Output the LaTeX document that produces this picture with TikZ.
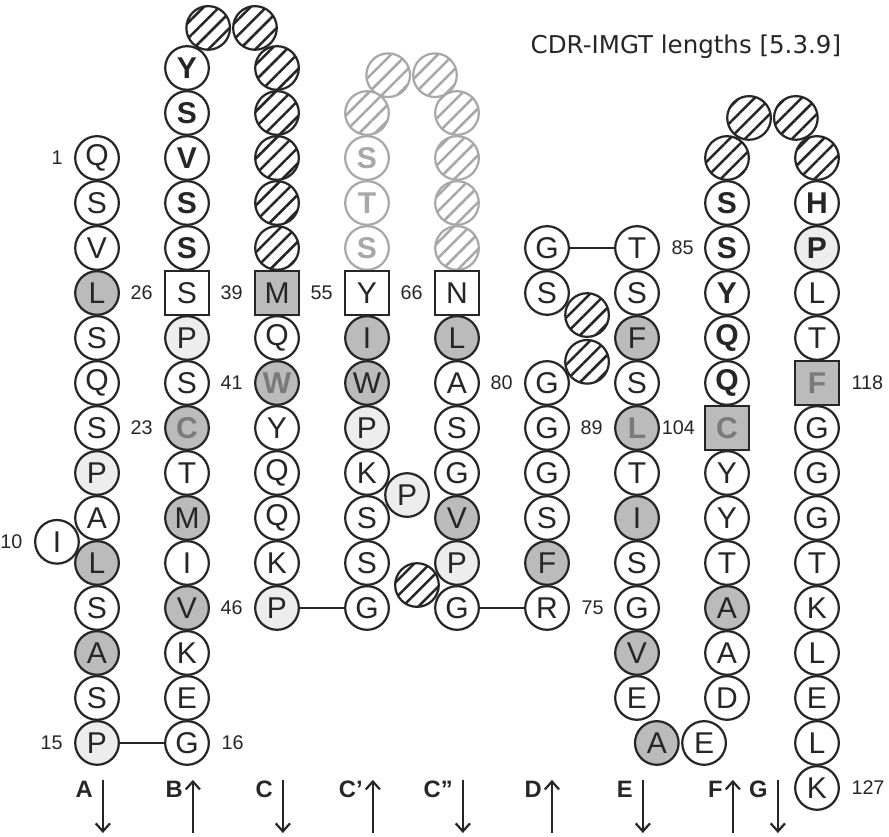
\documentclass[tikz,border=0pt]{standalone}
\usepackage{fontspec}
\setmainfont{Liberation Sans}
\newfontfamily\titlefont{DejaVu Sans}
\usetikzlibrary{arrows.meta,positioning,patterns.meta}

\definecolor{ink}{HTML}{262626}
\definecolor{hydgray}{HTML}{BBBBBB}
\definecolor{progray}{HTML}{EDEDED}
\definecolor{faintgray}{HTML}{A8A8A8}
\definecolor{dimtext}{HTML}{7A7A7A}

\newcommand{\resfont}{\fontsize{19}{22}\selectfont}

\begin{document}
\begin{tikzpicture}[>={Straight Barb[length=5pt,width=9pt]},
  bead/.style={circle,draw=ink,line width=1.4pt,minimum size=0.97cm,inner sep=0pt,text=ink,font=\resfont},
  res/.style={bead,fill=white},
  hyd/.style={bead,fill=hydgray},
  pro/.style={bead,fill=progray},
  cdr/.style={res,font=\resfont\bfseries},
  cdrpro/.style={pro,font=\resfont\bfseries},
  conserved/.style={hyd,text=dimtext,font=\resfont\bfseries},
  sqres/.style={res,rectangle},
  sqhyd/.style={hyd,rectangle},
  sqconserved/.style={conserved,rectangle},
  gap/.style={bead,preaction={fill=white},pattern={Lines[angle=45,distance=7pt,line width=1.6pt]},pattern color=ink},
  cdrtwo/.style={res,draw=faintgray,text=faintgray,font=\resfont\bfseries},
  cdrtwogap/.style={gap,draw=faintgray,pattern color=faintgray},
  num/.style={inner sep=0pt,text=ink,font=\fontsize{12.5}{14}\selectfont},
  strand/.style={inner sep=0pt,anchor=east,text=ink,font=\fontsize{15}{17}\selectfont\bfseries},
  link/.style={draw=ink,line width=1.4pt}]

\useasboundingbox (0,0) rectangle (19.756,-18.6);
\node[font=\titlefont\fontsize{15.5}{18}\selectfont,text=ink,anchor=base west] (title) at (11.67,-1.18) {CDR-IMGT lengths [5.3.9]};

\begin{scope}[shift={(2.156,-3.511)},y=-1cm]
% hatched gaps between strands
\node[gap] (BCgap1) at (2.47,-2.89) {};
\node[gap] (BCgap2) at (3.51,-2.89) {};
\node[cdrtwogap] (CCgap1) at (6.47,-1.84) {};
\node[cdrtwogap] (CCgap2) at (7.51,-1.84) {};
\node[gap] (CCgap3) at (7.11,9.49) {};
\node[gap] (DEgap1) at (10.89,3.49) {};
\node[gap] (DEgap2) at (10.89,4.53) {};
\node[gap] (FGgap1) at (14.49,-0.89) {};
\node[gap] (FGgap2) at (15.53,-0.89) {};

% strand A
\foreach \k/\r/\s in {0/Q/res,1/S/res,2/V/res,3/L/hyd,4/S/res,5/Q/res,6/S/res,7/P/pro,8/A/res,9/L/hyd,10/S/res,11/A/hyd,12/S/res,13/P/pro}
  \node[\s] (A\k) at (0,\k) {\r};
\node[res] (Aext) at (-0.89,8.53) {I};

% strand B
\foreach \k/\r/\s in {-2/Y/cdr,-1/S/cdr,0/V/cdr,1/S/cdr,2/S/cdr,3/S/sqres,4/P/pro,5/S/res,6/C/conserved,7/T/res,8/M/hyd,9/I/res,10/V/hyd,11/K/res,12/E/res,13/G/res}
  \node[\s] (B\k) at (2,\k) {\r};

% strand C
\foreach \k/\r/\s in {-2//gap,-1//gap,0//gap,1//gap,2//gap,3/M/sqhyd,4/Q/res,5/W/conserved,6/Y/res,7/Q/res,8/Q/res,9/K/res,10/P/pro}
  \node[\s] (C\k) at (4,\k) {\r};

% strand C'
\foreach \k/\r/\s in {-1//cdrtwogap,0/S/cdrtwo,1/T/cdrtwo,2/S/cdrtwo,3/Y/sqres,4/I/hyd,5/W/hyd,6/P/pro,7/K/res,8/S/res,9/S/res,10/G/res}
  \node[\s] (Cp\k) at (6,\k) {\r};
\node[pro] (Cpext) at (6.89,7.49) {P};

% strand C''
\foreach \k/\r/\s in {-1//cdrtwogap,0//cdrtwogap,1//cdrtwogap,2//cdrtwogap,3/N/sqres,4/L/hyd,5/A/res,6/S/res,7/G/res,8/V/hyd,9/P/pro,10/G/res}
  \node[\s] (Cpp\k) at (8,\k) {\r};

% strand D
\foreach \k/\r/\s in {2/G/res,3/S/res,5/G/res,6/G/res,7/G/res,8/S/res,9/F/hyd,10/R/res}
  \node[\s] (D\k) at (10,\k) {\r};

% strand E
\foreach \k/\r/\s in {2/T/res,3/S/res,4/F/hyd,5/S/res,6/L/conserved,7/T/res,8/I/hyd,9/S/res,10/G/res,11/V/hyd,12/E/res}
  \node[\s] (E\k) at (12,\k) {\r};
\node[hyd] (EFa) at (12.44,13) {A};
\node[res] (EFe) at (13.49,13) {E};

% strand F
\foreach \k/\r/\s in {0//gap,1/S/cdr,2/S/cdr,3/Y/cdr,4/Q/cdr,5/Q/cdr,6/C/sqconserved,7/Y/res,8/Y/res,9/T/res,10/A/hyd,11/A/res,12/D/res}
  \node[\s] (F\k) at (14,\k) {\r};

% strand G
\foreach \k/\r/\s in {0//gap,1/H/cdr,2/P/cdrpro,3/L/res,4/T/res,5/F/sqconserved,6/G/res,7/G/res,8/G/res,9/T/res,10/K/res,11/L/res,12/E/res,13/L/res,14/K/res}
  \node[\s] (G\k) at (16,\k) {\r};

\draw[link] (A13) -- (B13);
\draw[link] (C10) -- (Cp10);
\draw[link] (Cpp10) -- (D10);
\draw[link] (D2) -- (E2);

% positions
\node[num,left=0.25cm of A0] (n1) {1};
\node[num,left=0.25cm of Aext] (n10) {10};
\node[num,left=0.25cm of A13] (n15) {15};
\node[num,right=0.25cm of B13] (n16) {16};
\node[num,left=0.25cm of B6] (n23) {23};
\node[num,left=0.25cm of B3] (n26) {26};
\node[num,left=0.25cm of C3] (n39) {39};
\node[num,left=0.25cm of C5] (n41) {41};
\node[num,left=0.25cm of C10] (n46) {46};
\node[num,left=0.25cm of Cp3] (n55) {55};
\node[num,left=0.25cm of Cpp3] (n66) {66};
\node[num,right=0.25cm of D10] (n75) {75};
\node[num,left=0.25cm of D5] (n80) {80};
\node[num,right=0.25cm of E2] (n85) {85};
\node[num,left=0.25cm of E6] (n89) {89};
\node[num,left=0.2cm of F6] (n104) {104};
\node[num,right=0.25cm of G5] (n118) {118};
\node[num,right=0.25cm of G14] (n127) {127};

% strand directions
\foreach \n/\t/\x/\a/\b in {A/A/0.13/13.82/15.0,B/B/2.13/15.0/13.82,C/C/4.13/13.82/15.0,Cp/C'/6.13/15.0/13.82,Cpp/C''/8.13/13.82/15.0,D/D/10.11/15.0/13.82,E/E/12.13/13.82/15.0,F/F/14.13/15.0/13.82,G/G/15.13/13.82/15.0}{
  \node[strand] (s\n) at (\x-0.22,14.04) {\t};
  \coordinate (t\n) at (\x,\a);
  \coordinate (h\n) at (\x,\b);
  \draw[->,draw=ink,line width=1.4pt] (t\n) -- (h\n);
}
\end{scope}
\end{tikzpicture}
\end{document}
